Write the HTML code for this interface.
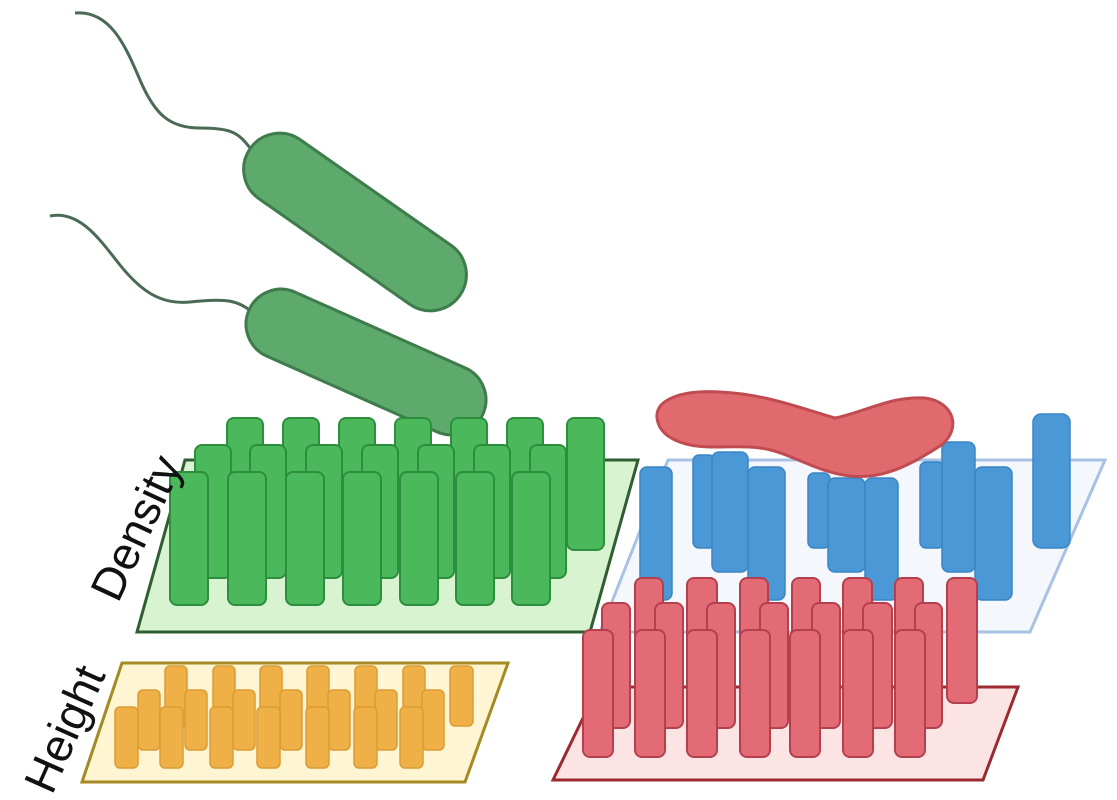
<!DOCTYPE html>
<html><head><meta charset="utf-8"><style>html,body{margin:0;padding:0;background:#fff;width:1117px;height:800px;overflow:hidden}</style></head>
<body>
<svg width="1117" height="800" viewBox="0 0 1117 800" xmlns="http://www.w3.org/2000/svg">
<defs>
<style>
.g{fill:#4cb85c;stroke:#2d8f3e;stroke-width:2}
.y{fill:#f0b048;stroke:#dc9c34;stroke-width:1.5}
.r{fill:#e36b76;stroke:#b4404e;stroke-width:2}
.b{fill:#4a98d6;stroke:#3a86c4;stroke-width:1.5}
</style>
</defs>

<path d="M75,13 C110,10 125,45 140,80 C155,115 170,128 200,128 C230,128 238,132 250,148" fill="none" stroke="#4a6a55" stroke-width="3"/>
<path d="M50,216 C80,210 100,240 120,265 C140,290 160,305 190,302 C225,298 238,300 252,312" fill="none" stroke="#4a6a55" stroke-width="3"/>

<g transform="translate(355,222) rotate(35)">
<rect x="-128" y="-36" width="256" height="72" rx="36" fill="#5ea96c" stroke="#3e7c4c" stroke-width="3"/>
</g>
<g transform="translate(366,362) rotate(24)">
<rect x="-128" y="-35" width="256" height="70" rx="35" fill="#5ea96c" stroke="#3e7c4c" stroke-width="3"/>
</g>

<polygon points="137,632 590,632 638,460 185,460" fill="#d8f3d0" stroke="#2f5e33" stroke-width="3"/>
<g class="g">
<rect x="227" y="418" width="36" height="130" rx="7"/>
<rect x="283" y="418" width="36" height="130" rx="7"/>
<rect x="339" y="418" width="36" height="130" rx="7"/>
<rect x="395" y="418" width="36" height="130" rx="7"/>
<rect x="451" y="418" width="36" height="130" rx="7"/>
<rect x="507" y="418" width="36" height="130" rx="7"/>
<rect x="567" y="418" width="37" height="132" rx="7"/>
<rect x="195" y="445" width="36" height="133" rx="7"/>
<rect x="250" y="445" width="36" height="133" rx="7"/>
<rect x="306" y="445" width="36" height="133" rx="7"/>
<rect x="362" y="445" width="36" height="133" rx="7"/>
<rect x="418" y="445" width="36" height="133" rx="7"/>
<rect x="474" y="445" width="36" height="133" rx="7"/>
<rect x="530" y="445" width="36" height="133" rx="7"/>
<rect x="170" y="472" width="38" height="133" rx="7"/>
<rect x="228" y="472" width="38" height="133" rx="7"/>
<rect x="286" y="472" width="38" height="133" rx="7"/>
<rect x="343" y="472" width="38" height="133" rx="7"/>
<rect x="400" y="472" width="38" height="133" rx="7"/>
<rect x="456" y="472" width="38" height="133" rx="7"/>
<rect x="512" y="472" width="38" height="133" rx="7"/>
</g>

<polygon points="82,782 465,782 508,663 122,663" fill="#fff5d2" stroke="#a38a22" stroke-width="3"/>
<g class="y">
<rect x="165" y="666" width="22" height="60" rx="5"/>
<rect x="213" y="666" width="22" height="60" rx="5"/>
<rect x="260" y="666" width="22" height="60" rx="5"/>
<rect x="307" y="666" width="22" height="60" rx="5"/>
<rect x="355" y="666" width="22" height="60" rx="5"/>
<rect x="403" y="666" width="22" height="60" rx="5"/>
<rect x="450" y="666" width="23" height="60" rx="5"/>
<rect x="138" y="690" width="22" height="60" rx="5"/>
<rect x="185" y="690" width="22" height="60" rx="5"/>
<rect x="233" y="690" width="22" height="60" rx="5"/>
<rect x="280" y="690" width="22" height="60" rx="5"/>
<rect x="328" y="690" width="22" height="60" rx="5"/>
<rect x="375" y="690" width="22" height="60" rx="5"/>
<rect x="422" y="690" width="22" height="60" rx="5"/>
<rect x="115" y="707" width="23" height="61" rx="5"/>
<rect x="160" y="707" width="23" height="61" rx="5"/>
<rect x="210" y="707" width="23" height="61" rx="5"/>
<rect x="257" y="707" width="23" height="61" rx="5"/>
<rect x="306" y="707" width="23" height="61" rx="5"/>
<rect x="354" y="707" width="23" height="61" rx="5"/>
<rect x="400" y="707" width="23" height="61" rx="5"/>
</g>

<polygon points="600,632 1030,632 1105,460 668,460" fill="#f4f8fd" stroke="#a8c2e4" stroke-width="3"/>
<g class="b">
<rect x="693" y="455" width="22" height="93" rx="6"/>
<rect x="808" y="473" width="22" height="75" rx="6"/>
<rect x="920" y="462" width="24" height="86" rx="6"/>
<rect x="1033" y="414" width="37" height="134" rx="8"/>
<rect x="640" y="467" width="32" height="133" rx="7"/>
<rect x="712" y="452" width="36" height="120" rx="7"/>
<rect x="748" y="467" width="37" height="133" rx="7"/>
<rect x="828" y="478" width="37" height="94" rx="7"/>
<rect x="865" y="478" width="33" height="122" rx="7"/>
<rect x="942" y="442" width="33" height="130" rx="7"/>
<rect x="975" y="467" width="37" height="133" rx="7"/>
</g>

<path d="M657,418 C655,398 685,390 720,392 C765,394 800,408 835,418 C865,412 890,396 925,398 C955,402 962,430 940,446 C915,462 885,480 850,476 C815,472 790,452 760,448 C730,444 700,452 675,440 C662,434 658,426 657,418 Z" fill="#e06a6e" stroke="#c04c52" stroke-width="3"/>

<polygon points="553,780 983,780 1018,687 598,687" fill="#fde4e4" stroke="#9c2a30" stroke-width="3"/>
<g class="r">
<rect x="635" y="578" width="28" height="125" rx="7"/>
<rect x="687" y="578" width="30" height="125" rx="7"/>
<rect x="740" y="578" width="28" height="125" rx="7"/>
<rect x="792" y="578" width="28" height="125" rx="7"/>
<rect x="843" y="578" width="29" height="125" rx="7"/>
<rect x="895" y="578" width="28" height="125" rx="7"/>
<rect x="947" y="578" width="30" height="125" rx="7"/>
<rect x="602" y="603" width="28" height="125" rx="7"/>
<rect x="655" y="603" width="28" height="125" rx="7"/>
<rect x="707" y="603" width="28" height="125" rx="7"/>
<rect x="760" y="603" width="28" height="125" rx="7"/>
<rect x="812" y="603" width="28" height="125" rx="7"/>
<rect x="863" y="603" width="29" height="125" rx="7"/>
<rect x="915" y="603" width="27" height="125" rx="7"/>
<rect x="583" y="630" width="30" height="127" rx="7"/>
<rect x="635" y="630" width="30" height="127" rx="7"/>
<rect x="687" y="630" width="30" height="127" rx="7"/>
<rect x="740" y="630" width="30" height="127" rx="7"/>
<rect x="790" y="630" width="30" height="127" rx="7"/>
<rect x="843" y="630" width="30" height="127" rx="7"/>
<rect x="895" y="630" width="30" height="127" rx="7"/>
</g>

<text x="0" y="0" transform="translate(118,604) rotate(-65)" font-family="Liberation Sans, sans-serif" font-size="46" fill="#111">Density</text>
<text x="0" y="0" transform="translate(52,796) rotate(-66)" font-family="Liberation Sans, sans-serif" font-size="46" fill="#111">Height</text>
</svg>
</body></html>
